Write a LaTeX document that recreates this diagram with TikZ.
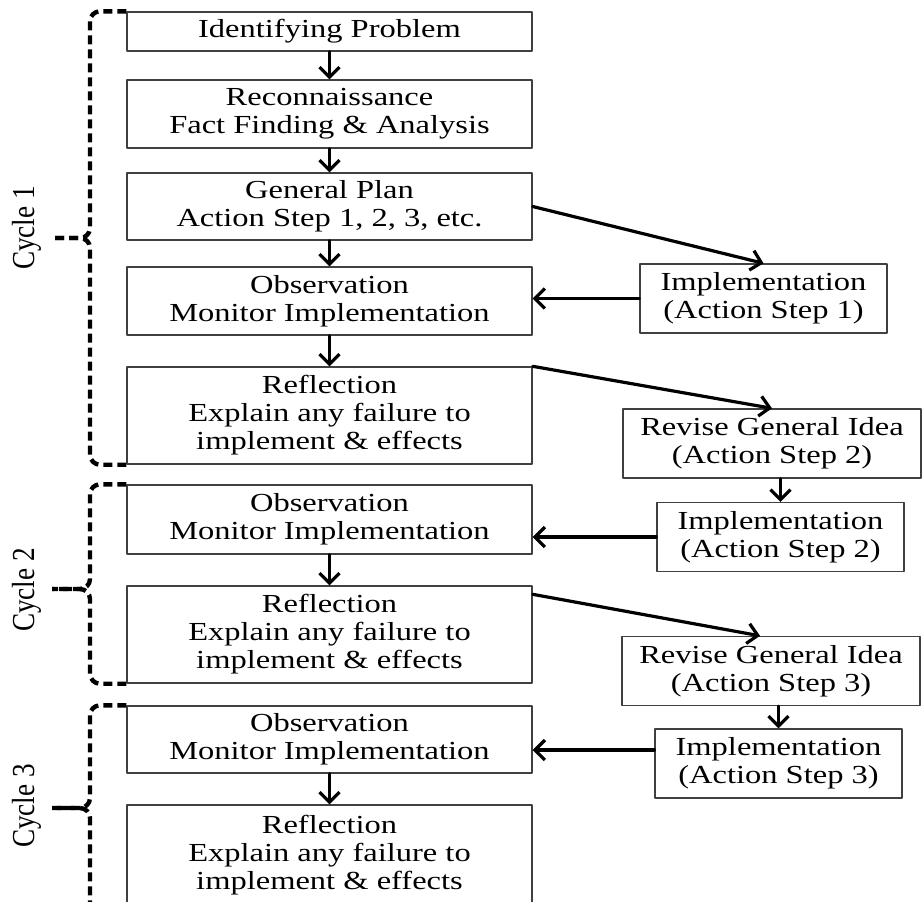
\documentclass[tikz,border=0pt]{standalone}
\usepackage{fontspec}
\setmainfont{Liberation Serif}[FakeStretch=1.25]
\newfontfamily\cyclefont{Liberation Serif}[FakeStretch=0.85]
\usetikzlibrary{arrows.meta,calc}

\begin{document}
\begin{tikzpicture}[line cap=round,line join=round,>={Straight Barb[length=5pt,width=10pt]},x=0.5pt,y=-0.5pt,
	every node/.style={font=\fontsize{13}{14}\selectfont,align=center,inner sep=0pt},
	box/.style={draw=black!75,line width=0.7pt,anchor=center},
	wide/.style={box,minimum width=202.5pt},
	side/.style={box,minimum width=123.5pt,minimum height=34.5pt},
	flow/.style={->,line width=1.6pt},
	cyclebrace/.style={line width=2.2pt,dash pattern=on 4.5pt off 2.5pt,rounded corners=5pt,line cap=butt},
	cyclelabel/.style={font=\cyclefont\fontsize{16}{18}\selectfont,rotate=90}]

\useasboundingbox (0,0) rectangle (924,901);
\clip (0,0) rectangle (924,901);

\node[wide,minimum height=19.5pt] (idp) at (329.5,31.5) {Identifying Problem};
\node[wide,minimum height=34pt] (recon) at (329.5,114) {Reconnaissance\\Fact Finding \& Analysis};
\node[wide,minimum height=33.5pt] (plan) at (329.5,206.5) {General Plan\\Action Step 1, 2, 3, etc.};
\node[wide,minimum height=34pt] (obs1) at (329.5,301) {Observation\\Monitor Implementation};
\node[wide,minimum height=48.5pt] (refl1) at (329.5,415.5) {Reflection\\Explain any failure to\\implement \& effects};
\node[wide,minimum height=34.5pt] (obs2) at (329.5,519.5) {Observation\\Monitor Implementation};
\node[wide,minimum height=48.5pt] (refl2) at (329.5,634.5) {Reflection\\Explain any failure to\\implement \& effects};
\node[wide,minimum height=33.5pt] (obs3) at (329.5,739.5) {Observation\\Monitor Implementation};
\node[wide,minimum height=50pt] (refl3) at (329.5,855) {Reflection\\Explain any failure to\\implement \& effects};

\node[side] (impl1) at (763.5,298.5) {Implementation\\(Action Step 1)};
\node[side,minimum width=149pt] (rev1) at (772,443.5) {Revise General Idea\\(Action Step 2)};
\node[side] (impl2) at (780.5,537) {Implementation\\(Action Step 2)};
\node[side,minimum width=149pt] (rev2) at (771,671) {Revise General Idea\\(Action Step 3)};
\node[side] (impl3) at (778.5,763.5) {Implementation\\(Action Step 3)};

\draw[flow] (idp) -- (recon);
\draw[flow] (recon) -- (plan);
\draw[flow] (plan) -- (obs1);
\draw[flow] (obs1) -- (refl1);
\draw[flow] (obs2) -- (refl2);
\draw[flow] (obs3) -- (refl3);

\draw[flow] (plan.east) -- (impl1.north);
\draw[flow] (impl1.west) -- (impl1.west -| obs1.east);
\draw[flow] (refl1.north east) -- (rev1.north);
\draw[flow] (impl2.north |- rev1.south) -- (impl2.north);
\draw[flow] (impl2.west) -- (impl2.west -| obs2.east);
\draw[flow] ([yshift=-4.5pt]refl2.north east) -- ([xshift=-5.5pt]rev2.north);
\draw[flow] (impl3.north |- rev2.south) -- (impl3.north);
\draw[flow] ([yshift=6.75pt]impl3.west) -- ([yshift=6.75pt]impl3.west -| obs3.east);

\coordinate (tip1) at (52,238);
\coordinate (tip2) at (52,589);
\coordinate (tip3) at (52,808);
\draw[cyclebrace] (idp.north west) -| (90,238) -- (tip1);
\draw[cyclebrace] (refl1.south west) -| (90,238) -- (tip1);
\draw[cyclebrace] (obs2.north west) -| (90,589) -- (tip2);
\draw[cyclebrace] (refl2.south west) -| (90,589) -- (tip2);
\draw[cyclebrace] (obs3.north west) -| (90,808) -- (tip3);
\draw[cyclebrace] (tip3) -| (90,915);

\node[cyclelabel] (cyc1) at (27,228) {Cycle 1};
\node[cyclelabel] (cyc2) at (27,590) {Cycle 2};
\node[cyclelabel] (cyc3) at (27,806) {Cycle 3};
\end{tikzpicture}
\end{document}
